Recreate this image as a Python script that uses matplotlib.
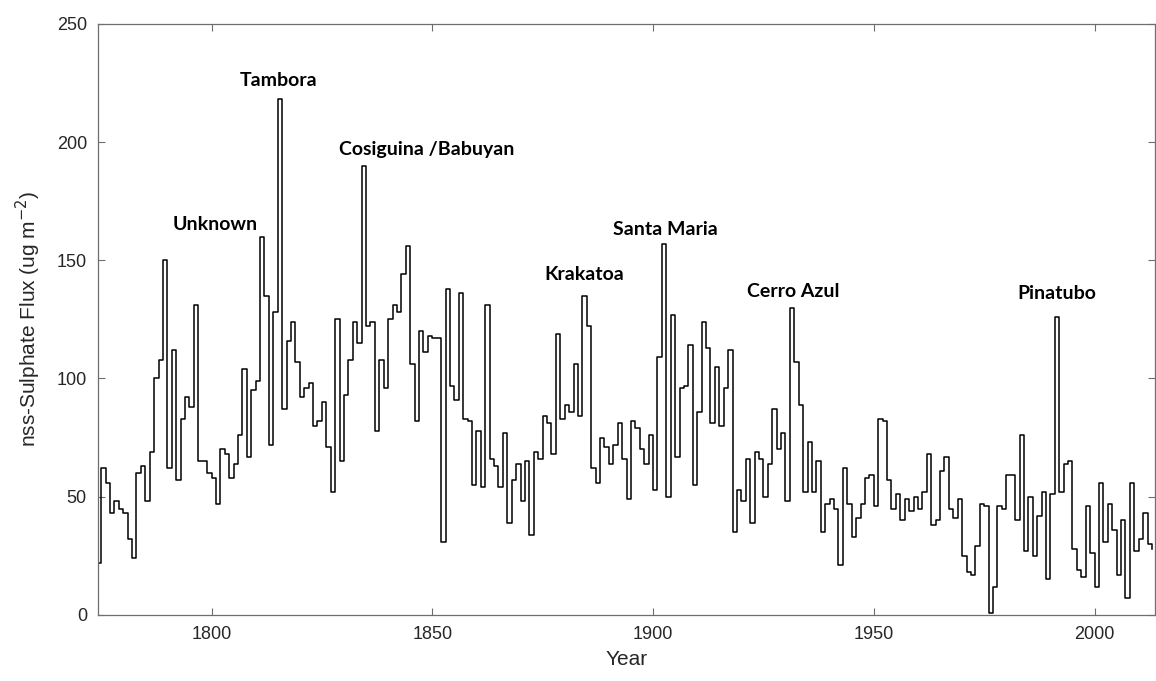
import numpy as np
import matplotlib
matplotlib.use("Agg")
import matplotlib.pyplot as plt

# annual non-sea-salt sulphate flux, one value per year from 1774 to 2013
years = np.arange(1774, 2014)
flux_1774_1799 = [22, 62, 56, 43, 48, 45, 43, 32, 24, 60, 63, 48, 69, 100, 108, 150,
                  62, 112, 57, 83, 92, 88, 131, 65, 65, 60]
flux_1800s = [58, 47, 70, 68, 58, 64, 76, 104, 67, 95,
              99, 160, 135, 72, 128, 218, 87, 116, 124, 107,
              92, 96, 98, 80, 82, 90, 71, 52, 125, 65,
              93, 108, 124, 115, 190, 122, 124, 78, 108, 96,
              125, 131, 128, 144, 156, 106, 82, 120, 111, 118,
              117, 117, 31, 138, 97, 91, 136, 83, 82, 55,
              78, 54, 131, 66, 63, 54, 77, 39, 57, 64,
              48, 65, 34, 69, 66, 84, 81, 68, 119, 83,
              89, 86, 106, 84, 135, 122, 62, 56, 75, 71,
              64, 72, 81, 66, 49, 82, 79, 70, 64, 76]
flux_1900s = [53, 109, 157, 50, 127, 67, 96, 97, 114, 55,
              86, 124, 113, 81, 105, 80, 96, 112, 35, 53,
              48, 66, 39, 69, 66, 50, 64, 87, 70, 77,
              48, 130, 107, 89, 52, 73, 52, 65, 35, 47,
              49, 45, 21, 62, 47, 33, 41, 47, 58, 59,
              46, 83, 82, 57, 45, 51, 40, 49, 44, 50,
              45, 52, 68, 38, 40, 61, 67, 45, 41, 49,
              25, 18, 17, 29, 47, 46, 1, 12, 46, 45,
              59, 59, 40, 76, 27, 50, 25, 42, 52, 15,
              51, 126, 52, 64, 65, 28, 19, 16, 46, 26]
flux_2000s = [12, 56, 31, 47, 36, 17, 40, 7, 56, 27, 32, 43, 30, 28]
flux = np.array(flux_1774_1799 + flux_1800s + flux_1900s + flux_2000s, dtype=float)

# eruptions named above their peaks (label text, year, height)
eruptions = ["Unknown", "Tambora", "Cosiguina /Babuyan", "Krakatoa",
             "Santa Maria", "Cerro Azul", "Pinatubo"]
eruption_x = [1800.9, 1815.2, 1848.7, 1884.5, 1902.7, 1931.8, 1991.4]
eruption_y = [165, 226, 197, 144, 163, 137, 136]

fig = plt.figure(figsize=(11.56, 6.81), dpi=100)
ax = fig.add_axes((0.0848, 0.097, 0.914, 0.868))

ax.step(years, flux, where="post", color="black", linewidth=1.1)

for name, x, y in zip(eruptions, eruption_x, eruption_y):
    ax.text(x, y, name, ha="center", va="center", fontsize=14,
            fontweight="bold", family="Lato", color="black")

ax.set_xlim(1774.3, 2013.6)
ax.set_ylim(0, 250)
ax.set_xticks([1800, 1850, 1900, 1950, 2000])
ax.set_yticks([0, 50, 100, 150, 200, 250])

grey = "#262626"
for side in ax.spines.values():
    side.set_color("#6e6e6e")
    side.set_linewidth(0.9)
ax.tick_params(direction="in", length=5, width=0.8, color="#6e6e6e",
               top=True, right=True, labelsize=13, labelcolor=grey, pad=8)
for lab in ax.get_xticklabels() + ax.get_yticklabels():
    lab.set_family("Liberation Sans")

ax.set_xlabel("Year", fontsize=15, color=grey, family="Liberation Sans", labelpad=5)
ax.set_ylabel("nss-Sulphate Flux (ug m$^{-2}$)", fontsize=15, color=grey,
              family="Liberation Sans", labelpad=10)

fig.savefig("out.png", dpi=100, facecolor="white")
